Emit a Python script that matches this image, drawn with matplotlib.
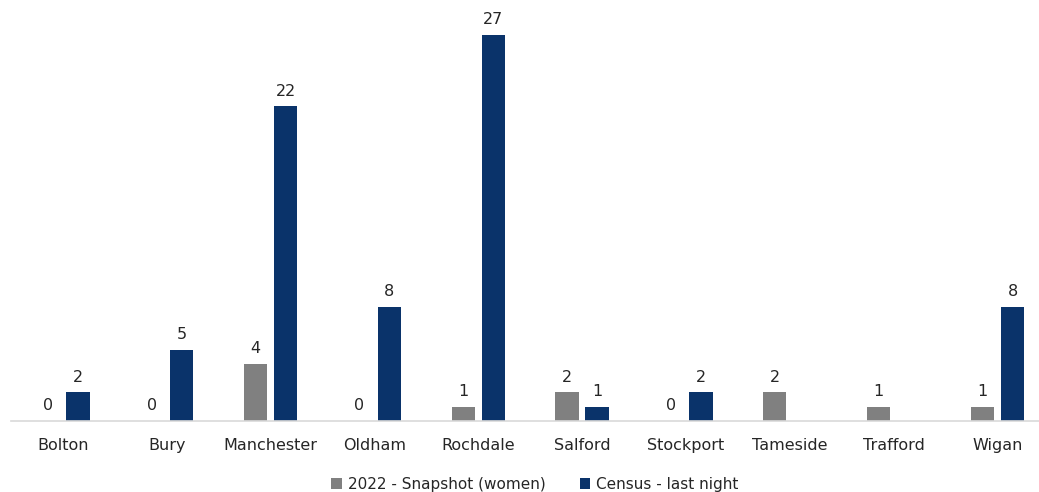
import matplotlib.pyplot as plt
import numpy as np

areas = ['Bolton', 'Bury', 'Manchester', 'Oldham', 'Rochdale', 'Salford',
         'Stockport', 'Tameside', 'Trafford', 'Wigan']
snapshot = [0, 0, 4, 0, 1, 2, 0, 2, 1, 1]
census = [2, 5, 22, 8, 27, 1, 2, None, None, 8]

gray = '#808080'
navy = '#0a336a'

fig = plt.figure(figsize=(10.39, 4.92), dpi=100)
ax = fig.add_axes([11/1039, 71/492, 1028/1039, 411/492])

x = np.arange(len(areas))
w = 0.225
off = 0.145

cen = [np.nan if v is None else v for v in census]
ax.bar(x - off, snapshot, w, color=gray, label='2022 - Snapshot (women)')
ax.bar(x + off, cen, w, color=navy, label='Census - last night')

for i in range(len(areas)):
    ax.text(x[i] - off, snapshot[i] + 0.55, str(snapshot[i]), ha='center', va='bottom',
            fontsize=11.5, color='#262626')
    if census[i] is not None:
        ax.text(x[i] + off, census[i] + 0.55, str(census[i]), ha='center', va='bottom',
                fontsize=11.5, color='#262626')

ax.set_xlim(-0.5, 9.4)
ax.set_ylim(0, 28.75)
ax.set_xticks(x)
ax.set_xticklabels(areas, fontsize=11.5, color='#262626')
ax.tick_params(axis='x', length=0, pad=12)
ax.set_yticks([])
for s in ['top', 'right', 'left']:
    ax.spines[s].set_visible(False)
ax.spines['bottom'].set_color('#d9d9d9')
ax.spines['bottom'].set_linewidth(1.2)

fig.legend(loc='lower center', bbox_to_anchor=(0.515, -0.028), ncol=2, frameon=False,
           fontsize=11, handlelength=0.7, handleheight=0.7, handletextpad=0.4,
           columnspacing=2.2, labelcolor='#262626')

fig.savefig('out.png', dpi=100)
